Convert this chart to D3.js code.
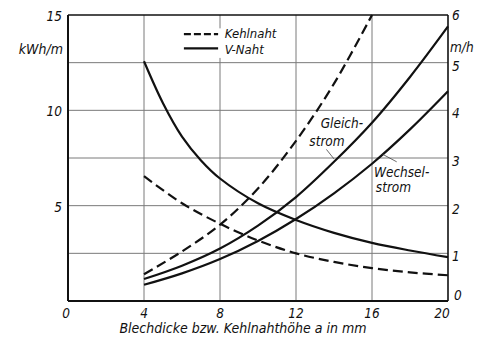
<!DOCTYPE html>
<html>
<head>
<meta charset="utf-8">
<script src="https://cdn.jsdelivr.net/npm/d3@7"></script>
<style>
  html, body { margin: 0; padding: 0; background: #fff; }
  svg { display: block; }
  text { font-family: "DejaVu Sans Condensed", "DejaVu Sans", sans-serif; font-style: italic; fill: #111; }
</style>
</head>
<body>
<svg id="chart" width="481" height="339"></svg>
<script>
// ---- data ----
const xTicks = [4, 8, 12, 16, 20];
const leftTicks = [5, 10, 15];
const rightTicks = [1, 2, 3, 4, 5, 6];
const leftUnit = "kWh/m";
const rightUnit = "m/h";
const xTitle = "Blechdicke bzw. Kehlnahthöhe a in mm";
const legendLabels = ["Kehlnaht", "V-Naht"];

// energy consumption, kWh/m (left axis), rising curves
const kehlEnergyX = [4, 6, 8, 10, 12, 14, 16];
const kehlEnergy  = [1.4, 2.6, 4.0, 5.9, 8.4, 11.4, 15.0];
const gleichX = [4, 6, 8, 10, 12, 14, 16, 18, 20];
const gleich  = [1.15, 1.85, 2.75, 3.95, 5.45, 7.3, 9.35, 11.75, 14.4];
const wechselX = [4, 6, 8, 10, 12, 14, 16, 18, 20];
const wechsel  = [0.85, 1.45, 2.2, 3.15, 4.3, 5.65, 7.2, 9.0, 11.0];

// welding speed, m/h (right axis), falling curves
const vSpeedX = [4, 5, 6, 7, 8, 10, 12, 14, 16, 18, 20];
const vSpeed  = [5.03, 4.15, 3.45, 2.95, 2.57, 2.05, 1.70, 1.43, 1.22, 1.06, 0.92];
const kehlSpeedX = [4, 6, 8, 10, 12, 14, 16, 18, 20];
const kehlSpeed  = [2.62, 2.05, 1.62, 1.27, 1.0, 0.82, 0.69, 0.60, 0.54];

// ---- drawing ----
const svg = d3.select("#chart");
const x = d3.scaleLinear().domain([0, 20]).range([68, 448]);
const yL = d3.scaleLinear().domain([0, 15]).range([301, 15]);
const yR = d3.scaleLinear().domain([0, 6]).range([301, 15]);

// grid
const grid = svg.append("g").attr("stroke", "#7a7a7a").attr("stroke-width", 1);
rightTicks.filter(d => d < 6).forEach(t => {
  grid.append("line").attr("x1", x(0)).attr("x2", x(20)).attr("y1", yR(t)).attr("y2", yR(t));
});
xTicks.filter(d => d < 20).forEach(t => {
  grid.append("line").attr("x1", x(t)).attr("x2", x(t)).attr("y1", yL(0)).attr("y2", yL(15));
});

// frame
const frame = svg.append("g").attr("stroke", "#111").attr("fill", "none");
frame.append("line").attr("x1", x(0)).attr("x2", x(0)).attr("y1", yL(15)).attr("y2", yL(0)).attr("stroke-width", 2);
frame.append("line").attr("x1", x(0)).attr("x2", x(20)).attr("y1", yL(0)).attr("y2", yL(0)).attr("stroke-width", 2);
frame.append("line").attr("x1", x(20)).attr("x2", x(20)).attr("y1", yL(15)).attr("y2", yL(0)).attr("stroke-width", 1.6);
frame.append("line").attr("x1", x(0)).attr("x2", x(20)).attr("y1", yL(15)).attr("y2", yL(15)).attr("stroke-width", 1.6);

// legend background (hides grid behind)
svg.append("rect").attr("x", x(5.9)).attr("y", yL(14.3)).attr("width", x(11.7) - x(5.9)).attr("height", yL(12.75) - yL(14.3)).attr("fill", "#fff");

// curves
const line = (xs, ysc) => d3.line().x((d, i) => x(xs[i])).y(d => ysc(d)).curve(d3.curveCatmullRom.alpha(0.5));
const curves = svg.append("g").attr("fill", "none").attr("stroke", "#111").attr("stroke-width", 2.2);
curves.append("path").attr("d", line(kehlEnergyX, yL)(kehlEnergy)).attr("stroke-dasharray", "10,5");
curves.append("path").attr("d", line(gleichX, yL)(gleich));
curves.append("path").attr("d", line(wechselX, yL)(wechsel));
curves.append("path").attr("d", line(vSpeedX, yR)(vSpeed));
curves.append("path").attr("d", line(kehlSpeedX, yR)(kehlSpeed)).attr("stroke-dasharray", "10,5");

// curve labels
function label(lines, xv, yv) {
  const g = svg.append("g");
  lines.forEach((s, i) => {
    g.append("text").attr("x", x(xv[i])).attr("y", yL(yv[i])).attr("font-size", 13.5).text(s);
  });
}
label(["Gleich-", "strom"], [13.3, 12.7], [9.05, 8.15]);
label(["Wechsel-", "strom"], [16.1, 16.2], [6.5, 5.7]);
// leader lines
const lead = svg.append("g").attr("stroke", "#444").attr("stroke-width", 0.8).attr("fill", "none");
lead.append("path").attr("d", d3.line()([[x(13.6), yL(7.95)], [x(14.0), yL(7.45)]]));
lead.append("path").attr("d", d3.line()([[x(16.55), yL(7.7)], [x(17.3), yL(7.3)]]));

// legend
const lg = svg.append("g");
lg.append("line").attr("x1", x(6.1)).attr("x2", x(7.9)).attr("y1", yL(14.0)).attr("y2", yL(14.0))
  .attr("stroke", "#111").attr("stroke-width", 2.2).attr("stroke-dasharray", "7,3");
lg.append("line").attr("x1", x(6.1)).attr("x2", x(7.9)).attr("y1", yL(13.25)).attr("y2", yL(13.25))
  .attr("stroke", "#111").attr("stroke-width", 2.2);
lg.append("text").attr("x", x(8.25)).attr("y", yL(13.8)).attr("font-size", 13).text(legendLabels[0]);
lg.append("text").attr("x", x(8.25)).attr("y", yL(12.95)).attr("font-size", 13).text(legendLabels[1]);

// left ticks
const tl = svg.append("g").attr("font-size", 13.5).attr("text-anchor", "end");
leftTicks.forEach(t => {
  tl.append("text").attr("x", x(0) - 6).attr("y", yL(t) + 6).text(t);
});
tl.append("text").attr("x", x(0) - 5).attr("y", yL(12.95)).attr("font-size", 14).text(leftUnit);
tl.append("text").attr("x", x(0) + 2).attr("y", yL(0) + 17).text("0");

// right ticks
const tr = svg.append("g").attr("font-size", 13.5).attr("text-anchor", "start");
rightTicks.forEach(t => {
  tr.append("text").attr("x", x(20) + 4).attr("y", yR(t) + (t === 6 ? 5 : 8)).text(t);
});
tr.append("text").attr("x", x(20) + 2).attr("y", yR(5.3) + 4).text(rightUnit);
tr.append("text").attr("x", x(20) + 6).attr("y", yR(0) - 1).text("0");

// bottom ticks
const tb = svg.append("g").attr("font-size", 13.5).attr("text-anchor", "middle");
xTicks.forEach(t => {
  tb.append("text").attr("x", x(t) + (t === 20 ? -6 : 0)).attr("y", yL(0) + 17).text(t);
});
svg.append("text").attr("x", 243).attr("y", 333).attr("font-size", 14).attr("text-anchor", "middle").text(xTitle);
</script>
</body>
</html>
